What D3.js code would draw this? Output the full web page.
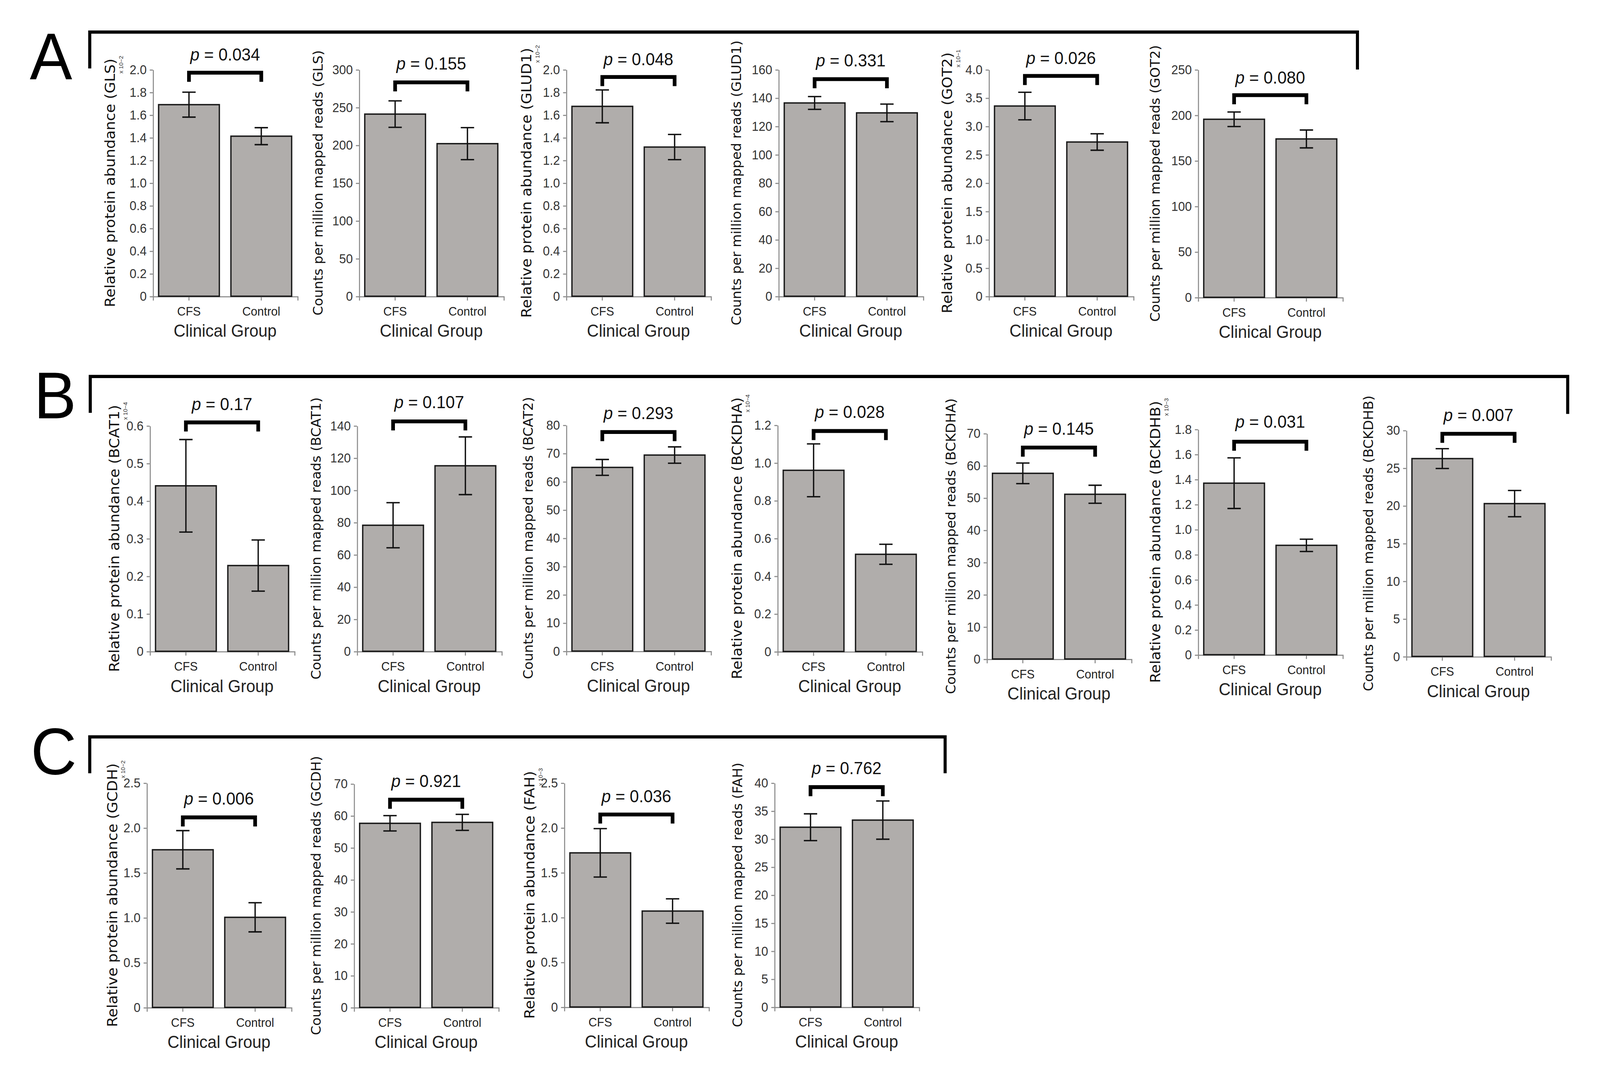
<!DOCTYPE html>
<html>
<head>
<meta charset="utf-8">
<script src="https://cdn.jsdelivr.net/npm/d3@7"></script>
<style>
  html, body { margin: 0; width: 100%; height: 100%; overflow: hidden; background: #fff; }
  #chart { width: 100%; height: 100%; }
  svg { display: block; width: 100vw; height: 100vh; }
</style>
</head>
<body>
<div id="chart"></div>
<script>
// ---- data ----
var groups = ["CFS", "Control"];

var panelGenes = ["GLS", "GLS", "GLUD1", "GLUD1", "GOT2", "GOT2",
                  "BCAT1", "BCAT1", "BCAT2", "BCKDHA", "BCKDHA", "BCKDHB", "BCKDHB",
                  "GCDH", "GCDH", "FAH", "FAH"];
var panelKinds = ["protein", "counts", "protein", "counts", "protein", "counts",
                  "protein", "counts", "counts", "protein", "counts", "protein", "counts",
                  "protein", "counts", "protein", "counts"];
var cfsMean     = [1.69, 241, 1.675, 136.4, 3.356, 195.4,
                   0.44, 78.2, 65.0, 0.96, 57.6, 1.369, 26.24,
                   1.755, 57.6, 1.719, 32.08];
var cfsErr      = [0.11, 17.5, 0.145, 4.5, 0.243, 8.0,
                   0.123, 14.0, 2.8, 0.14, 3.2, 0.202, 1.31,
                   0.213, 2.4, 0.27, 2.39];
var controlMean = [1.412, 201.9, 1.316, 129.4, 2.721, 173.8,
                   0.228, 115.1, 69.36, 0.515, 51.1, 0.873, 20.27,
                   1.003, 57.9, 1.070, 33.35];
var controlErr  = [0.075, 21.2, 0.111, 6.2, 0.145, 9.8,
                   0.068, 17.9, 2.9, 0.053, 2.8, 0.049, 1.74,
                   0.162, 2.5, 0.136, 3.41];
var pValues = ["0.034", "0.155", "0.048", "0.331", "0.026", "0.080",
               "0.17", "0.107", "0.293", "0.028", "0.145", "0.031", "0.007",
               "0.006", "0.921", "0.036", "0.762"];
var axisMax  = [2.0, 300, 2.0, 160, 4.0, 250, 0.6, 140, 80, 1.2, 70, 1.8, 30, 2.5, 70, 2.5, 40];
var axisStep = [0.2, 50, 0.2, 20, 0.5, 50, 0.1, 20, 10, 0.2, 10, 0.2, 5, 0.5, 10, 0.5, 5];
var exponents = ["\u22122", "", "\u22122", "", "\u22121", "",
                 "\u22124", "", "", "\u22124", "", "\u22123", "",
                 "\u22122", "", "\u22123", ""];

var rowLetters = ["A", "B", "C"];

function draw(){

    // panel placement in a 1560 x 1008 frame (x = y axis, top/zero = y range)
    var layout = [
        {x: 149,  top: 65,    zero: 277,   pBase: 56.5,  brY: 68,    lx: 107},
        {x: 350,  top: 65,    zero: 277,   pBase: 65,    brY: 77,    lx: 310},
        {x: 552,  top: 65,    zero: 277,   pBase: 61,    brY: 72,    lx: 513},
        {x: 759,  top: 65,    zero: 277,   pBase: 62,    brY: 74,    lx: 718},
        {x: 964,  top: 65,    zero: 277,   pBase: 60,    brY: 71,    lx: 923},
        {x: 1168, top: 65,    zero: 278,   pBase: 78,    brY: 89,    lx: 1126},
        {x: 146,  top: 398,   zero: 609,   pBase: 383.6, brY: 395,   lx: 111},
        {x: 348,  top: 398,   zero: 609,   pBase: 381.6, brY: 394,   lx: 308},
        {x: 552,  top: 397.4, zero: 608.8, pBase: 391.8, brY: 404,   lx: 515},
        {x: 758,  top: 397.4, zero: 609.2, pBase: 390.8, brY: 403,   lx: 718},
        {x: 962,  top: 405.2, zero: 616.2, pBase: 406.5, brY: 418.5, lx: 927},
        {x: 1168, top: 401.3, zero: 612.2, pBase: 400,   brY: 413,   lx: 1126},
        {x: 1371, top: 402.3, zero: 613.8, pBase: 393.8, brY: 405.6, lx: 1334},
        {x: 143,  top: 732,   zero: 942,   pBase: 752.2, brY: 764.3, lx: 109},
        {x: 345,  top: 732.8, zero: 942,   pBase: 736,   brY: 747.8, lx: 308},
        {x: 550,  top: 732,   zero: 941.6, pBase: 750,   brY: 761.6, lx: 516},
        {x: 755,  top: 732,   zero: 941.6, pBase: 724,   brY: 736,   lx: 719}
    ];
    var frames = [
        {x0: 87.5, x1: 1323.5, top: 30,  left: 64,  right: 65,  lx: 29, ly: 74},
        {x0: 88,   x1: 1528.5, top: 352, left: 386, right: 387, lx: 33, ly: 391},
        {x0: 87.5, x1: 921.5,  top: 689, left: 723, right: 723, lx: 30, ly: 724}
    ];
    var plotW = 141;
    var arial = "'Liberation Sans', Arial, sans-serif";
    var wide = "'DejaVu Sans', Verdana, sans-serif";

    var svg = d3.select("#chart")
        .append("svg")
        .attr("width", "100%")
        .attr("height", "100%")
        .attr("viewBox", "0 0 1560 1008")
        .attr("preserveAspectRatio", "none");

    svg.append("rect").attr("width", 1560).attr("height", 1008).attr("fill", "#fff");

    // row brackets and letters
    frames.forEach(function(f, r) {
        svg.append("path")
            .attr("d", "M" + f.x0 + "," + f.left + "V" + f.top + "H" + f.x1 + "V" + f.right)
            .attr("fill", "none")
            .attr("stroke", "#000")
            .attr("stroke-width", 3);
        svg.append("text")
            .attr("x", f.lx)
            .attr("y", f.ly)
            .style("font-family", arial)
            .style("font-size", "62px")
            .text(rowLetters[r]);
    });

    panelGenes.forEach(function(gene, i) {
        var L = layout[i];
        var g = svg.append("g").attr("class", "panel p-" + i);

        var x = d3.scaleBand()
            .domain(groups)
            .range([L.x, L.x + plotW])
            .paddingInner(0.16)
            .paddingOuter(0.08);
        var y = d3.scaleLinear()
            .domain([0, axisMax[i]])
            .range([L.zero, L.top]);

        var ticks = d3.range(0, axisMax[i] + axisStep[i] / 2, axisStep[i]);
        var fmt = axisStep[i] < 1
            ? function(d) { return d === 0 ? "0" : d3.format(".1f")(d); }
            : d3.format("d");

        var yAx = g.append("g")
            .attr("class", "y axis")
            .attr("transform", "translate(" + L.x + ",0)")
            .call(d3.axisLeft(y).tickValues(ticks).tickFormat(fmt)
                  .tickSize(3).tickSizeOuter(0).tickPadding(3));
        yAx.select(".domain").attr("stroke", "#8a8a8a");
        yAx.selectAll(".tick line").attr("stroke", "#8a8a8a");
        yAx.selectAll("text")
            .attr("fill", "#333")
            .style("font-family", arial)
            .style("font-size", "12px");

        var xAx = g.append("g")
            .attr("class", "x axis")
            .attr("transform", "translate(0," + L.zero + ")")
            .call(d3.axisBottom(x).tickSize(4).tickSizeOuter(4).tickPadding(6));
        xAx.select(".domain").attr("stroke", "#8a8a8a");
        xAx.selectAll(".tick line").attr("stroke", "#8a8a8a");
        xAx.selectAll("text")
            .attr("fill", "#222")
            .style("font-family", arial)
            .style("font-size", "11.5px");

        g.append("text")
            .attr("x", L.x + plotW / 2)
            .attr("y", L.zero + 38)
            .attr("text-anchor", "middle")
            .attr("fill", "#222")
            .style("font-family", arial)
            .style("font-size", "16px")
            .text("Clinical Group");

        var rows = groups.map(function(name, j) {
            return {
                group: name,
                mean: j ? controlMean[i] : cfsMean[i],
                err: j ? controlErr[i] : cfsErr[i]
            };
        });

        g.selectAll("rect.bar")
            .data(rows)
          .enter().append("rect")
            .attr("class", "bar")
            .attr("x", function(d) { return x(d.group); })
            .attr("y", function(d) { return y(d.mean); })
            .attr("width", x.bandwidth())
            .attr("height", function(d) { return y(0) - y(d.mean); })
            .attr("fill", "#b0adab")
            .attr("stroke", "#1a1a1a")
            .attr("stroke-width", 1.3);

        var cap = 6.5;
        var eb = g.selectAll("g.err")
            .data(rows)
          .enter().append("g")
            .attr("class", "err")
            .attr("stroke", "#111")
            .attr("stroke-width", 1.3);
        eb.append("line")
            .attr("x1", function(d) { return x(d.group) + x.bandwidth() / 2; })
            .attr("x2", function(d) { return x(d.group) + x.bandwidth() / 2; })
            .attr("y1", function(d) { return y(d.mean - d.err); })
            .attr("y2", function(d) { return y(d.mean + d.err); });
        [-1, 1].forEach(function(s) {
            eb.append("line")
                .attr("x1", function(d) { return x(d.group) + x.bandwidth() / 2 - cap; })
                .attr("x2", function(d) { return x(d.group) + x.bandwidth() / 2 + cap; })
                .attr("y1", function(d) { return y(d.mean + s * d.err); })
                .attr("y2", function(d) { return y(d.mean + s * d.err); });
        });

        // significance bracket and p value
        var c0 = x(groups[0]) + x.bandwidth() / 2;
        var c1 = x(groups[1]) + x.bandwidth() / 2;
        g.append("path")
            .attr("d", "M" + c0 + "," + (L.brY + 8.5) + "V" + L.brY + "H" + c1 + "V" + (L.brY + 8.5))
            .attr("fill", "none")
            .attr("stroke", "#000")
            .attr("stroke-width", 3.6);
        var pt = g.append("text")
            .attr("x", (c0 + c1) / 2)
            .attr("y", L.pBase)
            .attr("text-anchor", "middle")
            .attr("fill", "#111")
            .style("font-family", arial)
            .style("font-size", "16.2px");
        pt.append("tspan").style("font-style", "italic").text("p");
        pt.append("tspan").text(" = " + pValues[i]);

        // y axis title
        var cy = (L.top + L.zero) / 2;
        var isProtein = panelKinds[i] === "protein";
        var title = isProtein
            ? "Relative protein abundance (" + gene + ")"
            : "Counts per million mapped reads (" + gene + ")";
        var fs = isProtein ? 13.8 : 12.6;
        var yt = g.append("text")
            .attr("transform", "translate(" + (L.lx + fs * 0.37) + "," + cy + ") rotate(-90)")
            .attr("text-anchor", "middle")
            .attr("fill", "#111")
            .style("font-family", wide)
            .style("font-size", fs + "px")
            .text(title);

        if (exponents[i]) {
            var len = yt.node().getComputedTextLength();
            g.append("text")
                .attr("transform", "translate(" + (L.lx + 13) + "," + (cy - len / 2 + 14) + ") rotate(-90)")
                .attr("fill", "#333")
                .style("font-family", arial)
                .style("font-size", "5.5px")
                .text("x 10" + exponents[i]);
        }
    });
}

draw();
</script>
</body>
</html>
